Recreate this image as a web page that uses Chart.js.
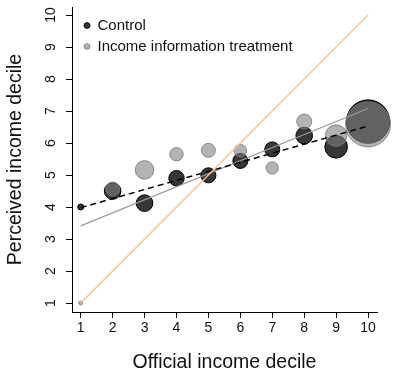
<!DOCTYPE html>
<html>
<head>
<meta charset="utf-8">
<script src="https://cdn.jsdelivr.net/npm/chart.js@4.4.1/dist/chart.umd.min.js"></script>
<style>
  html, body { margin: 0; padding: 0; background: #fff; }
  #wrap { width: 393px; height: 372px; }
</style>
</head>
<body>
<div id="wrap"><canvas id="myChart"></canvas></div>
<script>
const deciles = [1, 2, 3, 4, 5, 6, 7, 8, 9, 10];
const tickValues = [1, 2, 3, 4, 5, 6, 7, 8, 9, 10];

// mean perceived decile per official decile
const controlY = [4.0, 4.5, 4.12, 4.9, 4.99, 5.44, 5.8, 6.23, 5.88, 6.67];
const treatmentY = [1.0, 4.56, 5.16, 5.65, 5.77, 5.76, 5.22, 6.67, 6.23, 6.58];
// bubble radius (group size)
const controlR = [3, 8.3, 8.3, 7.7, 7.5, 7.5, 7.5, 8.3, 11.3, 21.7];
const treatmentR = [2, 7, 9.3, 6.7, 7, 6.3, 6.2, 7.5, 10.8, 22.5];

// fitted lines (endpoints)
const controlFitX = [1, 10];
const controlFitY = [3.98, 6.53];
const treatmentFitX = [1, 10];
const treatmentFitY = [3.41, 7.08];
const diagonalX = [1, 10];
const diagonalY = [1, 10];

const pts = (xs, ys, rs) => xs.map((x, i) => rs ? {x: x, y: ys[i], r: rs[i]} : {x: x, y: ys[i]});

const font = "'Liberation Sans', Arial, sans-serif";

// legend sits inside the plot, top-left
const legendShift = {
    id: 'legendShift',
    afterLayout: (chart) => {
        chart.legend.left += 6;
        chart.legend.top += 12;
        chart.legend.bottom += 12;
    }
};

const ctx = document.getElementById('myChart');

new Chart(ctx, {
    type: 'bubble',
    data: {
        datasets: [{
            type: 'line',
            label: 'diag',
            data: pts(diagonalX, diagonalY),
            borderColor: '#fdbf86',
            borderWidth: 1.3,
            pointRadius: 0,
            order: 0
        }, {
            type: 'line',
            label: 'fit control',
            data: pts(controlFitX, controlFitY),
            borderColor: '#000',
            borderWidth: 1.5,
            borderDash: [6, 4],
            pointRadius: 0,
            order: 0
        }, {
            type: 'line',
            label: 'fit treatment',
            data: pts(treatmentFitX, treatmentFitY),
            borderColor: '#999',
            borderWidth: 1.2,
            pointRadius: 0,
            order: 0
        }, {
            label: 'Control',
            data: pts(deciles, controlY, controlR),
            backgroundColor: 'rgba(20,20,20,0.85)',
            borderColor: '#000',
            borderWidth: 1,
            clip: false,
            order: 2
        }, {
            label: 'Income information treatment',
            data: pts(deciles, treatmentY, treatmentR),
            backgroundColor: 'rgba(128,128,128,0.6)',
            borderColor: 'rgba(120,120,120,0.8)',
            borderWidth: 1,
            clip: false,
            order: 1
        }]
    },
    options: {
        responsive: true,
        maintainAspectRatio: false,
        animation: false,
        layout: { autoPadding: false, padding: { top: 7, right: 16, left: 0, bottom: 0 } },
        plugins: {
            tooltip: { enabled: false },
            legend: {
                position: 'chartArea',
                align: 'start',
                labels: {
                    filter: (item) => item.text === 'Control' || item.text === 'Income information treatment',
                    sort: (a, b) => a.datasetIndex - b.datasetIndex,
                    usePointStyle: true,
                    pointStyleWidth: 6,
                    boxWidth: 4,
                    boxHeight: 4,
                    padding: 6,
                    color: '#111',
                    font: { family: font, size: 15 }
                }
            }
        },
        scales: {
            x: {
                type: 'linear',
                min: 0.727,
                max: 10.28,
                afterBuildTicks: (scale) => { scale.ticks = tickValues.map(v => ({value: v})); },
                afterFit: (scale) => { scale.height = 60; scale.paddingLeft = 0; scale.paddingRight = 0; },
                border: { color: '#000', width: 1 },
                grid: { drawOnChartArea: false, drawTicks: true, tickLength: 6, color: '#000' },
                ticks: { color: '#111', padding: 2, maxRotation: 0, font: { family: font, size: 14 } },
                title: {
                    display: true,
                    text: 'Official income decile',
                    color: '#111',
                    padding: { top: 0, bottom: 0 },
                    font: { family: font, size: 19.5, lineHeight: 1 }
                }
            },
            y: {
                type: 'linear',
                min: 0.719,
                max: 10.25,
                afterBuildTicks: (scale) => { scale.ticks = tickValues.map(v => ({value: v})); },
                afterFit: (scale) => { scale.width = 72; scale.paddingTop = 0; scale.paddingBottom = 0; },
                border: { color: '#000', width: 1 },
                grid: { drawOnChartArea: false, drawTicks: true, tickLength: 6, color: '#000' },
                ticks: {
                    color: '#111',
                    padding: 7,
                    minRotation: 90,
                    maxRotation: 90,
                    crossAlign: 'center',
                    font: { family: font, size: 14 }
                },
                title: {
                    display: true,
                    text: 'Perceived income decile',
                    color: '#111',
                    padding: { top: 6, bottom: 0 },
                    font: { family: font, size: 19.5, lineHeight: 1 }
                }
            }
        }
    },
    plugins: [legendShift]
});
</script>
</body>
</html>
